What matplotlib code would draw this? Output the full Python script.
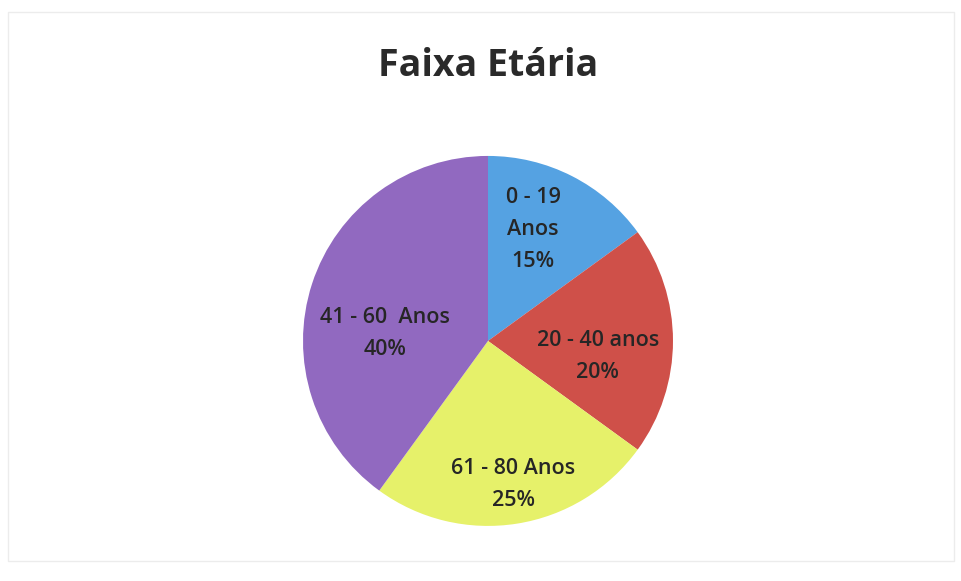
import numpy as np
import matplotlib.pyplot as plt
from matplotlib.patches import Rectangle

# data
categories = ['0 - 19\nAnos', '20 - 40 anos', '61 - 80 Anos', '41 - 60  Anos']
shares = [15, 20, 25, 40]
colors = ['#55a2e2', '#cf5049', '#e6f16a', '#9169c0']

plt.rcParams['font.family'] = ['Open Sans', 'DejaVu Sans']

fig = plt.figure(figsize=(9.61, 5.81), dpi=100)
fig.patch.set_facecolor('white')

# faint border of the chart area
fig.patches.append(Rectangle((0.008, 0.035), 0.985, 0.945, transform=fig.transFigure,
                             fill=False, edgecolor='#ececec', linewidth=1.0))

ax = fig.add_axes([0.3153, 0.0947, 0.385, 0.637])
wedges, _ = ax.pie(shares, colors=colors, startangle=90, counterclock=False,
                   wedgeprops=dict(linewidth=0))
ax.set_xlim(-1, 1)
ax.set_ylim(-1, 1)
ax.set_aspect('equal')

# label placement: radius fraction and angle shift per wedge
label_r = [0.65, 0.60, 0.79, 0.56]
label_shift = [5, -8, 1, 14]
for w, cat, val, r, sh in zip(wedges, categories, shares, label_r, label_shift):
    ang = np.deg2rad((w.theta1 + w.theta2) / 2 + sh)
    ax.text(r * np.cos(ang), r * np.sin(ang), f'{cat}\n{val}%',
            ha='center', va='center', fontsize=15.5, fontweight='semibold',
            color='#262626', linespacing=1.7)

fig.text(0.508, 0.886, 'Faixa Etária', ha='center', va='center',
         fontsize=27, fontweight='bold', color='#2a2a2a')

fig.savefig('out.png', dpi=100, facecolor='white')
